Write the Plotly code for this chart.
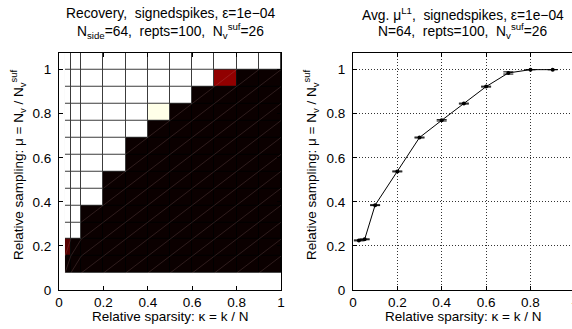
import plotly.graph_objects as go

# ---------------- data ----------------
# relative sparsity kappa = k/N (left vertices of heatmap columns / x of right plot)
kappa = [0.027, 0.053, 0.1, 0.2, 0.3, 0.4, 0.5, 0.6, 0.7, 0.8, 0.9]
kappa_pad = 1.0                      # extra vertex closing the last column
# number of measurements N_v, relative sampling mu = N_v / N_v^suf
N_v = [2, 4, 6, 8, 10, 12, 14, 16, 18, 20, 22, 24, 26]
N_v_suf = 26
# recovery rate (rows: mu from low to high, cols: kappa)
recovery = [
    [0, 0, 0, 0, 0, 0, 0, 0, 0, 0, 0],
    [0.11, 0, 0, 0, 0, 0, 0, 0, 0, 0, 0],
    [1, 1, 0, 0, 0, 0, 0, 0, 0, 0, 0],
    [1, 1, 0, 0, 0, 0, 0, 0, 0, 0, 0],
    [1, 1, 1, 0, 0, 0, 0, 0, 0, 0, 0],
    [1, 1, 1, 0, 0, 0, 0, 0, 0, 0, 0],
    [1, 1, 1, 1, 0, 0, 0, 0, 0, 0, 0],
    [1, 1, 1, 1, 0, 0, 0, 0, 0, 0, 0],
    [1, 1, 1, 1, 1, 0, 0, 0, 0, 0, 0],
    [1, 1, 1, 1, 1, 0.977, 0, 0, 0, 0, 0],
    [1, 1, 1, 1, 1, 1, 1, 0, 0, 0, 0],
    [1, 1, 1, 1, 1, 1, 1, 1, 0.2, 0, 0],
    [1, 1, 1, 1, 1, 1, 1, 1, 1, 1, 1],
]
# average L1 transition mu and its spread
avg_mu = [0.225, 0.230, 0.385, 0.538, 0.692, 0.770, 0.846, 0.923, 0.985, 1.0, 1.0]
avg_mu_err = [0.002, 0.002, 0.002, 0.002, 0.002, 0.003, 0.002, 0.002, 0.005, 0.0005, 0.0005]

x_ticks = [0, 0.2, 0.4, 0.6, 0.8, 1]
y_ticks = [0, 0.2, 0.4, 0.6, 0.8, 1]

# ---------------- derived ----------------
mu = [n / N_v_suf for n in N_v]
x_edges = kappa + [kappa_pad]
y_edges = mu + [mu[-1] + (mu[-1] - mu[-2])]

W, H = 572, 329
FONT = "Liberation Sans, Arial, sans-serif"
FS = 13.5
TFS = 13.5
TTL = 13.8

hot = [[0, "#0b0000"], [0.365, "#ff0000"], [0.746, "#ffff00"], [1, "#ffffff"]]
edgescale = [[0, "#000000"], [1, "#3c3c3c"]]

fig = go.Figure()

# edge colour layer (visible through gaps)
fig.add_trace(go.Heatmap(x=x_edges, y=y_edges, z=recovery, colorscale=edgescale,
                         zmin=0, zmax=1, showscale=False, hoverinfo="skip",
                         xaxis="x", yaxis="y"))
# cells
fig.add_trace(go.Heatmap(x=x_edges, y=y_edges, z=recovery, colorscale=hot,
                         zmin=0, zmax=1, showscale=False, xgap=1, ygap=1,
                         xaxis="x", yaxis="y"))
# faint diagonal rendering seams in dark cells
dx, dy = [], []
for j, row in enumerate(recovery):
    for i, v in enumerate(row):
        if v < 0.5:
            dx += [x_edges[i], x_edges[i + 1], None]
            dy += [y_edges[j], y_edges[j + 1], None]
fig.add_trace(go.Scatter(x=dx, y=dy, mode="lines", hoverinfo="skip",
                         line=dict(color="rgba(200,150,150,0.28)", width=0.7),
                         xaxis="x", yaxis="y", showlegend=False))

# right plot
fig.add_trace(go.Scatter(x=kappa, y=avg_mu, mode="lines+markers",
                         line=dict(color="black", width=1),
                         marker=dict(color="black", size=4),
                         error_y=dict(type="data", array=avg_mu_err, visible=True,
                                      color="black", thickness=1, width=5),
                         xaxis="x2", yaxis="y2", showlegend=False))

ydom = [1 - 290 / H, 1 - 52.7 / H]
ax_common = dict(showline=True, linecolor="black", linewidth=1, ticks="inside",
                 ticklen=4, tickcolor="black", tickfont=dict(size=TFS, color="black"),
                 zeroline=False, fixedrange=True, automargin=False)

fig.update_layout(
    width=W, height=H, margin=dict(l=0, r=0, t=0, b=0, autoexpand=False),
    paper_bgcolor="white", plot_bgcolor="white",
    font=dict(family=FONT, size=FS, color="black"),
    showlegend=False,
    xaxis=dict(domain=[59 / W, 281 / W], range=[0, 1], tickvals=x_ticks,
               ticktext=[f"{v:g}" for v in x_ticks], showgrid=False, mirror="ticks",
               anchor="y", **ax_common),
    yaxis=dict(domain=ydom, range=[0, y_edges[-1]], tickvals=y_ticks,
               ticktext=[f"{v:g}" for v in y_ticks], showgrid=False, mirror="ticks",
               anchor="x", ticklabelstandoff=4, **ax_common),
    xaxis2=dict(domain=[352.9 / W, 1], range=[0, (W - 352.9) / 222], tickvals=x_ticks,
                ticktext=[f"{v:g}" for v in x_ticks], showgrid=True, gridcolor="#333",
                griddash="1px,2px", gridwidth=1, mirror="ticks", anchor="y2", **ax_common),
    yaxis2=dict(domain=ydom, range=[0, y_edges[-1]], tickvals=y_ticks,
                ticktext=[f"{v:g}" for v in y_ticks], showgrid=True, gridcolor="#333",
                griddash="1px,2px", gridwidth=1, mirror=False, anchor="x2",
                ticklabelstandoff=4, **ax_common),
)

sp = "\u00a0"
ann = []
def add(text, x, y, angle=0, size=FS, xanchor="center", yanchor="middle"):
    ann.append(dict(text=text, x=x / W, y=1 - y / H, xref="paper", yref="paper",
                    showarrow=False, textangle=angle, xanchor=xanchor, yanchor=yanchor,
                    font=dict(size=size, color="black", family=FONT)))

add(f"Recovery,{sp}{sp}signedspikes, ε=1e−04", 170, 14, size=TTL)
add(f"N<sub>side</sub>=64,{sp}{sp}repts=100,{sp}{sp}N<sub>v</sub><sup>suf</sup>=26", 170, 31, size=TTL)
add(f"Avg. μ<sup>L1</sup>,{sp}{sp}signedspikes, ε=1e−04", 463, 14, size=TTL)
add(f"N=64,{sp}{sp}repts=100,{sp}{sp}N<sub>v</sub><sup>suf</sup>=26", 463, 31, size=TTL)
add("Relative sparsity: κ = k / N", 170, 316)
add("Relative sparsity: κ = k / N", 463, 316)
add("Relative sampling: μ = N<sub>v</sub> / N<sub>v</sub><sup>suf</sup>", 18, 165, angle=-90)
add("Relative sampling: μ = N<sub>v</sub> / N<sub>v</sub><sup>suf</sup>", 311, 165, angle=-90)
# tick label "1" of the right plot, cut by the page edge
add("1", 352.9 + 222, 299, size=TFS)
fig.update_layout(annotations=ann)

fig.write_html("out.html", config={"displayModeBar": False, "staticPlot": True},
               post_script="document.body.style.margin='0';document.body.style.overflow='hidden';")
